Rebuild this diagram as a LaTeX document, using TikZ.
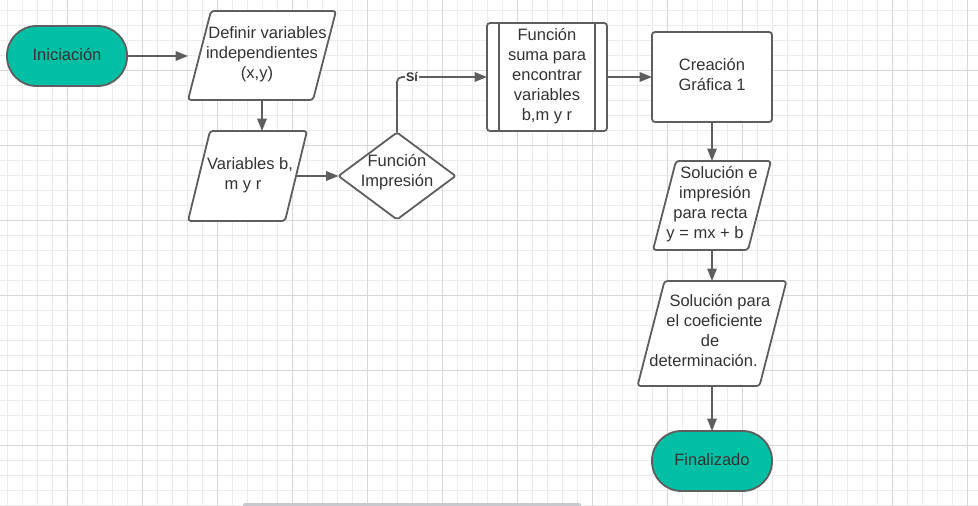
\documentclass[tikz,border=0pt]{standalone}
\usepackage{fontspec}
\setmainfont{Liberation Sans}
\usetikzlibrary{arrows.meta}
\definecolor{gridminor}{RGB}{236,236,236}
\definecolor{gridmajor}{RGB}{216,216,216}
\definecolor{edge}{RGB}{94,94,94}
\definecolor{txt}{RGB}{51,51,51}
\definecolor{tealfill}{RGB}{0,191,165}
\definecolor{scrollbar}{RGB}{200,201,206}
\pgfdeclarelayer{gridlayer}
\pgfdeclarelayer{shapelayer}
\pgfsetlayers{gridlayer,shapelayer,main}
\newcommand\tstrut{\rule{0pt}{14pt}}
\newcommand\bstrut{\rule[-7.4pt]{0pt}{7.4pt}}
\newcommand\paral[2]{\draw[shapeline] ([xshift=#2pt]#1.north west) -- (#1.north east) -- ([xshift=-#2pt]#1.south east) -- (#1.south west) -- cycle;}
\begin{document}
\begin{tikzpicture}[x=1pt,y=-1pt,
  every node/.style={outer sep=0pt},
  lbl/.style={text=txt, font=\fontsize{16.5}{20}\selectfont, align=center, inner sep=0pt},
  term/.style={lbl, draw=edge, line width=1.8pt, fill=tealfill, rounded corners=29.5pt, minimum width=120pt, minimum height=60pt},
  procbox/.style={lbl, draw=edge, line width=1.8pt, fill=white, rounded corners=3pt},
  area/.style 2 args={lbl, minimum width=#1pt, minimum height=#2pt},
  shapeline/.style={draw=edge, line width=1.8pt, fill=white, rounded corners=3pt, line join=round},
  conn/.style={draw=edge, line width=1.8pt, -{Triangle[length=12.5pt,width=9.5pt]}},
  edgeline/.style={draw=edge, line width=1.8pt}
]
\useasboundingbox (0,0) rectangle (978,506);
\begin{pgfonlayer}{gridlayer}
  \fill[white] (0,0) rectangle (978,506);
  \foreach \i in {0,...,64} \draw[gridminor, line width=1pt] ({7.3+15*\i},0) -- ++(0,506);
  \foreach \j in {0,...,33} \draw[gridminor, line width=1pt] (0,{10+15*\j}) -- ++(978,0);
  \foreach \i in {0,...,12} \draw[gridmajor, line width=1pt] ({67.3+75*\i},0) -- ++(0,506);
  \foreach \j in {0,...,5} \draw[gridmajor, line width=1pt] (0,{70+75*\j}) -- ++(978,0);
\end{pgfonlayer}

\node[term] (ini) at (67,56) {\strut Iniciación};
\node[area={148}{89}] (def) at (262,55.5) {\hspace*{11pt}\tstrut Definir variables\\independientes\\\hspace*{-10pt}(x,y)\bstrut};
\node[area={119}{90}] (var) at (247.5,176) {\hspace*{5pt}\tstrut Variables b,\\\hspace*{-9pt}m y r\bstrut};
\node[area={117}{87}] (imp) at (397,176) {\tstrut Función\\Impresión\rule[-12.4pt]{0pt}{12.4pt}};
\node[procbox, minimum width=120pt, minimum height=108pt] (fun) at (547,77) {\tstrut Función\\suma para\\encontrar\\variables\\b,m y r\bstrut};
\node[procbox, minimum width=120pt, minimum height=90pt] (cre) at (712,77) {\tstrut Creación\\Gráfica 1\bstrut};
\node[area={118}{89}] (sol1) at (712,205.5) {\hspace*{14pt}\tstrut Solución e\\\hspace*{6pt}impresión\\\hspace*{-3pt}para recta\\\hspace*{-14pt}y = mx + b\bstrut};
\node[area={149}{105}] (sol2) at (712,333.5) {\hspace*{16pt}\tstrut Solución para\\\hspace*{5pt}el coeficiente\\\hspace*{-4pt}de\\\hspace*{-17pt}determinación.\bstrut};
\node[term] (fin) at (712,461) {\strut Finalizado};

\begin{pgfonlayer}{shapelayer}
  \paral{def}{23}
  \paral{var}{22}
  \paral{sol1}{23}
  \paral{sol2}{27}
  \draw[shapeline, rounded corners=2pt] (imp.west) -- (imp.north) -- (imp.east) -- (imp.south) -- cycle;
\end{pgfonlayer}

\draw[edgeline] ([xshift=12pt]fun.north west) -- ([xshift=12pt]fun.south west);
\draw[edgeline] ([xshift=-12pt]fun.north east) -- ([xshift=-12pt]fun.south east);

\draw[conn] (ini.east) -- (ini.east -| def.west);
\draw[conn] (def.south) -- (def.south |- var.north);
\draw[conn] ([xshift=-11pt]var.east) -- (imp.west);
\draw[conn, rounded corners=5pt] (imp.north) |- (fun.west)
  node[pos=0.583, fill=white, text=txt, font=\fontsize{12.5}{14}\selectfont\bfseries, inner sep=1pt] (si) {Sí};
\draw[conn] (fun.east) -- (cre.west);
\draw[conn] (cre.south) -- (sol1.north);
\draw[conn] (sol1.south) -- (sol2.north);
\draw[conn] (sol2.south) -- (fin.north);

\fill[scrollbar, rounded corners=2pt] (243,503) rectangle (581,510);
\end{tikzpicture}
\end{document}
